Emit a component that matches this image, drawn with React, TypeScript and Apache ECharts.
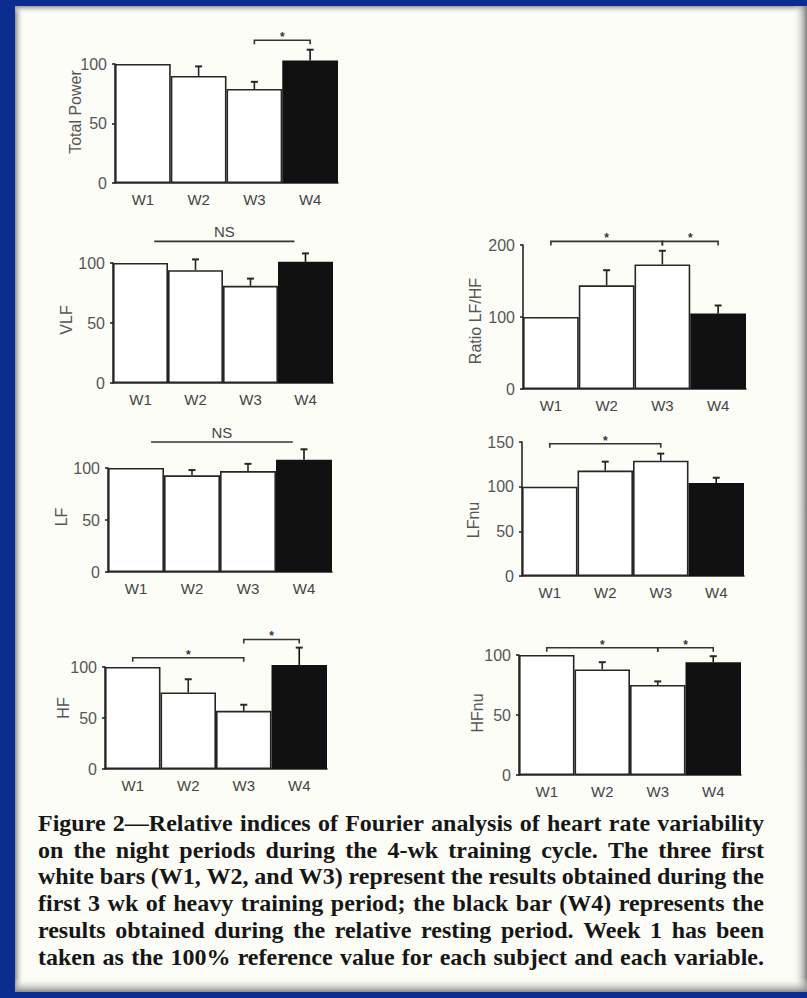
import React, { useEffect, useRef } from 'react';
import * as echarts from 'echarts';

const weeks = ['W1', 'W2', 'W3', 'W4'];

const totalPower = [100, 90, 79, 103];
const totalPowerSem = [0, 8, 6, 9];
const vlf = [100, 94, 81, 101];
const vlfSem = [0, 9, 6, 7];
const lf = [100, 93, 97, 108];
const lfSem = [0, 5, 7, 10];
const hf = [100, 75, 57, 102];
const hfSem = [0, 13, 6, 17];
const ratioLfHf = [100, 144, 173, 105];
const ratioLfHfSem = [0, 21, 19, 11];
const lfnu = [100, 118, 129, 104];
const lfnuSem = [0, 10, 8, 6];
const hfnu = [100, 88, 75, 94];
const hfnuSem = [0, 6, 3, 5];

// significance brackets: [from category, to category, y value]
const totalPowerBrackets = [[2, 3, 120]];
const totalPowerMarks = ['*'];
const vlfBrackets = [[0.25, 2.8, 118]];
const vlfMarks = ['NS'];
const lfBrackets = [[0.27, 2.8, 125]];
const lfMarks = ['NS'];
const hfBrackets = [[0, 2, 109], [2, 3, 127]];
const hfMarks = ['*', '*'];
const ratioBrackets = [[0, 2, 205], [2, 3, 205]];
const ratioMarks = ['*', '*'];
const lfnuBrackets = [[0, 2, 148]];
const lfnuMarks = ['*'];
const hfnuBrackets = [[0, 2, 106], [2, 3, 106]];
const hfnuMarks = ['*', '*'];

const yTitles = ['Total Power', 'VLF', 'LF', 'HF', 'Ratio LF/HF', 'LFnu', 'HFnu'];
const yMax = [100, 100, 100, 100, 200, 150, 100];
const yInterval = [50, 50, 50, 50, 100, 50, 50];

const captionLines = [
  'Figure 2\u2014Relative indices of Fourier analysis of heart rate variability',
  'on the night periods during the 4-wk training cycle. The three first',
  'white bars (W1, W2, and W3) represent the results obtained during the',
  'first 3 wk of heavy training period; the black bar (W4) represents the',
  'results obtained during the relative resting period. Week 1 has been',
  'taken as the 100% reference value for each subject and each variable.',
];

// layout (pixels)
const grids = [
  { left: 115, top: 64, width: 223, height: 119 },
  { left: 113, top: 263, width: 220, height: 120 },
  { left: 108, top: 468, width: 224, height: 104 },
  { left: 105, top: 667, width: 222, height: 102 },
  { left: 523, top: 245, width: 223, height: 144 },
  { left: 522, top: 442, width: 222, height: 134 },
  { left: 519, top: 655, width: 222, height: 120 },
];
const titlePos = [
  [75, 112], [66, 320], [61, 517], [63, 708], [475, 321], [473, 520], [477, 713],
];

const panelMeans = [totalPower, vlf, lf, hf, ratioLfHf, lfnu, hfnu];
const panelSems = [totalPowerSem, vlfSem, lfSem, hfSem, ratioLfHfSem, lfnuSem, hfnuSem];
const panelBrackets = [totalPowerBrackets, vlfBrackets, lfBrackets, hfBrackets, ratioBrackets, lfnuBrackets, hfnuBrackets];
const panelMarks = [totalPowerMarks, vlfMarks, lfMarks, hfMarks, ratioMarks, lfnuMarks, hfnuMarks];

const INK = '#262626';
const SANS = '"Liberation Sans", Arial, sans-serif';
const SERIF = '"Liberation Serif", "Times New Roman", serif';

function buildCaption(): any[] {
  const els: any[] = [];
  const canvas = document.createElement('canvas');
  const ctx = canvas.getContext('2d')!;
  const font = `bold 24px ${SERIF}`;
  ctx.font = font;
  const left = 38;
  const width = 726;
  const measured = captionLines.map((line) => {
    const words = line.split(' ');
    const ws = words.map((w) => ctx.measureText(w).width);
    const sum = ws.reduce((a, b) => a + b, 0);
    return { words, ws, sum };
  });
  let scale = 1;
  measured.forEach((m) => {
    const s = (width - 5 * (m.words.length - 1)) / m.sum;
    if (s < scale) scale = s;
  });
  scale = Math.max(scale, 0.72);
  measured.forEach((m, li) => {
    const gap = (width - m.sum * scale) / (m.words.length - 1);
    const baseline = 831 + li * 26.8;
    let x = left;
    m.words.forEach((w, wi) => {
      els.push({
        type: 'text',
        x,
        y: baseline - 8.2,
        scaleX: scale,
        style: { text: w, font, fill: '#161616', align: 'left', verticalAlign: 'middle' },
      });
      x += m.ws[wi] * scale + gap;
    });
  });
  return els;
}

function buildOption(): any {
  const xAxis: any[] = [];
  const yAxis: any[] = [];
  const series: any[] = [];
  grids.forEach((g, p) => {
    xAxis.push({
      type: 'category',
      gridIndex: p,
      data: weeks,
      boundaryGap: true,
      axisLine: { show: true, lineStyle: { color: INK, width: 1.6 } },
      axisTick: { show: false },
      axisLabel: { color: '#444', fontSize: 15, fontFamily: SANS, margin: 9 },
      splitLine: { show: false },
    });
    yAxis.push({
      type: 'value',
      gridIndex: p,
      min: 0,
      max: yMax[p],
      interval: yInterval[p],
      axisLine: { show: true, lineStyle: { color: INK, width: 1.6 } },
      axisTick: { show: true, length: 3, lineStyle: { color: INK, width: 1.6 } },
      axisLabel: { color: '#555', fontSize: 16, fontFamily: SANS, margin: 8 },
      splitLine: { show: false },
    });
    const means = panelMeans[p];
    const sems = panelSems[p];
    series.push({
      type: 'bar',
      xAxisIndex: p,
      yAxisIndex: p,
      clip: false,
      barCategoryGap: '0%',
      z: 2,
      data: means.map((v, i) => ({
        value: v,
        itemStyle: { color: i === 3 ? '#111' : '#fff', borderColor: i === 3 ? '#111' : INK, borderWidth: 1.6 },
      })),
    });
    series.push({
      type: 'custom',
      xAxisIndex: p,
      yAxisIndex: p,
      z: 4,
      clip: false,
      data: means.map((v, i) => [i, v + sems[i]]),
      renderItem: (params: any, api: any) => {
        const i = params.dataIndex;
        if (!sems[i]) return null;
        const base = api.coord([i, means[i]]);
        const top = api.coord([i, means[i] + sems[i]]);
        const stroke = i === 3 ? '#111' : INK;
        return {
          type: 'group',
          children: [
            { type: 'line', shape: { x1: base[0], y1: base[1], x2: top[0], y2: top[1] }, style: { stroke, lineWidth: 1.6 } },
            { type: 'line', shape: { x1: top[0] - 3.5, y1: top[1], x2: top[0] + 3.5, y2: top[1] }, style: { stroke: INK, lineWidth: 2 } },
          ],
        };
      },
    });
    const br = panelBrackets[p];
    const marks = panelMarks[p];
    series.push({
      type: 'custom',
      xAxisIndex: p,
      yAxisIndex: p,
      z: 4,
      clip: false,
      data: br.map((b) => [Math.floor(b[0]), b[2]]),
      renderItem: (params: any, api: any) => {
        const b = br[params.dataIndex];
        const mark = marks[params.dataIndex];
        const band = api.size([1, 0])[0];
        const f0 = Math.floor(b[0]);
        const f1 = Math.floor(b[1]);
        const p0 = api.coord([f0, b[2]]);
        const p1 = api.coord([f1, b[2]]);
        const x0 = p0[0] + (b[0] - f0) * band;
        const x1 = p1[0] + (b[1] - f1) * band;
        const y = p0[1];
        const children: any[] = [];
        if (mark === 'NS') {
          children.push({ type: 'line', shape: { x1: x0, y1: y, x2: x1, y2: y }, style: { stroke: '#333', lineWidth: 1.6 } });
          children.push({
            type: 'text', x: (x0 + x1) / 2, y: y - 10,
            style: { text: 'NS', font: `15px ${SANS}`, fill: '#444', align: 'center', verticalAlign: 'middle' },
          });
        } else {
          children.push({
            type: 'polyline',
            shape: { points: [[x0, y + 4], [x0, y], [x1, y], [x1, y + 4]] },
            style: { stroke: '#333', lineWidth: 1.6, fill: 'none' },
          });
          children.push({
            type: 'text', x: (x0 + x1) / 2, y: y - 3,
            style: { text: '*', font: `bold 12px ${SANS}`, fill: '#333', align: 'center', verticalAlign: 'middle' },
          });
        }
        return { type: 'group', children };
      },
    });
  });

  const graphic: any[] = [
    { type: 'rect', z: -10, shape: { x: 0, y: 0, width: 807, height: 998 }, style: { fill: '#0a2d8f' } },
    { type: 'rect', z: -9, shape: { x: 15, y: 6, width: 792, height: 986 }, style: { fill: '#fdfdf8' } },
    {
      type: 'rect', z: -8, shape: { x: 15, y: 6, width: 9, height: 986 },
      style: { fill: new echarts.graphic.LinearGradient(0, 0, 1, 0, [{ offset: 0, color: '#8a8a86' }, { offset: 1, color: 'rgba(253,253,248,0)' }]) },
    },
    {
      type: 'rect', z: -8, shape: { x: 15, y: 6, width: 792, height: 8 },
      style: { fill: new echarts.graphic.LinearGradient(0, 0, 0, 1, [{ offset: 0, color: '#9a9a96' }, { offset: 1, color: 'rgba(253,253,248,0)' }]) },
    },
    {
      type: 'rect', z: -8, shape: { x: 793, y: 6, width: 14, height: 986 },
      style: { fill: new echarts.graphic.LinearGradient(0, 0, 1, 0, [{ offset: 0, color: 'rgba(253,253,248,0)' }, { offset: 1, color: '#7d7d7a' }]) },
    },
    {
      type: 'rect', z: -8, shape: { x: 15, y: 978, width: 792, height: 14 },
      style: { fill: new echarts.graphic.LinearGradient(0, 0, 0, 1, [{ offset: 0, color: 'rgba(253,253,248,0)' }, { offset: 1, color: '#8a8a86' }]) },
    },
  ];
  yTitles.forEach((t, p) => {
    graphic.push({
      type: 'text',
      x: titlePos[p][0],
      y: titlePos[p][1],
      rotation: Math.PI / 2,
      style: { text: t, font: `16px ${SANS}`, fill: '#555', align: 'center', verticalAlign: 'middle' },
    });
  });
  graphic.push(...buildCaption());

  return {
    animation: false,
    grid: grids.map((g) => ({ ...g, containLabel: false })),
    xAxis,
    yAxis,
    series,
    graphic,
  };
}

export default function App() {
  const ref = useRef<HTMLDivElement>(null);
  useEffect(() => {
    const chart = echarts.init(ref.current!, null, { renderer: 'svg', width: 807, height: 998 });
    chart.setOption(buildOption());
    return () => chart.dispose();
  }, []);
  return <div ref={ref} style={{ position: 'absolute', left: 0, top: 0, width: 807, height: 998 }} />;
}
